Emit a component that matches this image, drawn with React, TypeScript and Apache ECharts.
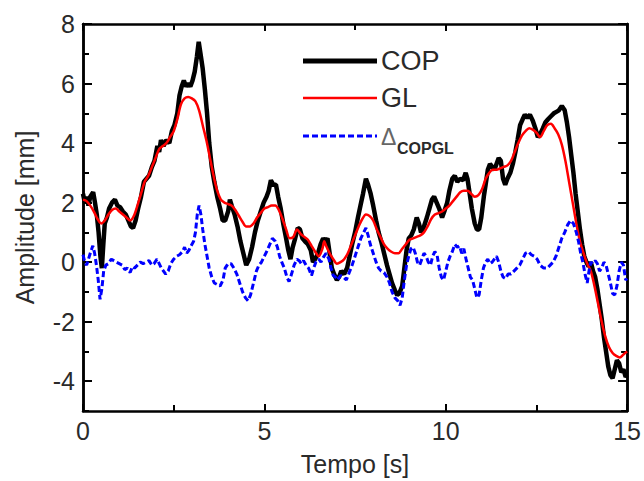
import React, { useEffect, useRef } from "react";
import * as echarts from "echarts";

const xTicks = [0, 5, 10, 15];
const yTickValues = [-4, -2, 0, 2, 4, 6, 8];

const copData: number[][] = [
  [0, 2.3], [0.05, 2.0], [0.1, 2.2], [0.15, 1.9], [0.2, 2.2], [0.28, 2.35], [0.33, 2.0], [0.38, 1.6], [0.43, 1.0], [0.48, 0.2],
  [0.52, -0.2], [0.56, 0.6], [0.6, 1.3], [0.66, 1.5], [0.72, 1.8], [0.8, 2.0], [0.88, 2.1], [0.95, 1.9], [1.02, 1.85], [1.1, 1.7],
  [1.18, 1.6], [1.25, 1.4], [1.32, 1.2], [1.38, 1.15], [1.45, 1.4], [1.52, 1.8], [1.6, 2.2], [1.68, 2.7], [1.75, 2.8], [1.82, 2.9],
  [1.9, 3.2], [1.97, 3.4], [2.05, 3.9], [2.1, 3.7], [2.15, 4.1], [2.22, 3.9], [2.3, 4.1], [2.38, 4.0], [2.45, 4.4], [2.52, 4.6],
  [2.6, 5.0], [2.66, 5.6], [2.72, 5.9], [2.78, 6.1], [2.84, 5.9], [2.9, 6.0], [2.96, 5.9], [3.02, 6.1], [3.08, 6.4], [3.14, 6.9],
  [3.19, 7.4], [3.24, 7.0], [3.3, 6.5], [3.36, 5.8], [3.42, 5.0], [3.48, 4.0], [3.55, 3.2], [3.62, 2.7], [3.7, 2.2], [3.78, 1.8],
  [3.85, 1.4], [3.92, 1.4], [4.0, 1.7], [4.05, 2.1], [4.1, 1.9], [4.18, 1.6], [4.26, 1.2], [4.34, 0.7], [4.42, 0.3], [4.5, -0.1],
  [4.58, 0.1], [4.66, 0.5], [4.74, 1.0], [4.82, 1.4], [4.9, 1.7], [4.98, 2.0], [5.06, 2.2], [5.12, 2.4], [5.18, 2.75], [5.25, 2.6],
  [5.32, 2.6], [5.38, 2.2], [5.45, 1.8], [5.52, 1.3], [5.6, 0.8], [5.66, 0.4], [5.72, 0.1], [5.78, 0.5], [5.85, 0.8], [5.92, 1.15],
  [5.98, 1.1], [6.05, 0.8], [6.12, 0.7], [6.2, 0.6], [6.28, 0.4], [6.34, 0.0], [6.4, 0.1], [6.48, 0.3], [6.55, 0.6], [6.62, 0.8],
  [6.68, 0.7], [6.74, 0.8], [6.8, 0.3], [6.86, -0.2], [6.92, -0.4], [7.0, -0.6], [7.06, -0.5], [7.12, -0.3], [7.2, -0.4], [7.28, -0.2],
  [7.35, 0.2], [7.42, 0.6], [7.5, 1.0], [7.58, 1.5], [7.65, 1.9], [7.72, 2.3], [7.8, 2.8], [7.86, 2.6], [7.93, 2.3], [8.0, 1.9],
  [8.08, 1.4], [8.15, 1.0], [8.22, 0.7], [8.3, 0.3], [8.38, -0.1], [8.45, -0.4], [8.52, -0.7], [8.6, -0.95], [8.66, -1.1], [8.72, -1.05],
  [8.8, -0.8], [8.86, -0.2], [8.92, 0.4], [8.98, 0.8], [9.05, 0.9], [9.12, 1.1], [9.2, 1.5], [9.26, 1.3], [9.32, 1.0], [9.4, 1.2],
  [9.48, 1.5], [9.55, 1.8], [9.62, 2.1], [9.68, 2.2], [9.75, 2.0], [9.82, 1.8], [9.9, 1.5], [9.96, 1.7], [10.04, 2.0], [10.1, 2.4],
  [10.18, 2.8], [10.25, 2.9], [10.32, 2.7], [10.4, 2.8], [10.48, 2.75], [10.55, 3.0], [10.6, 2.8], [10.66, 2.3], [10.72, 1.8], [10.8, 1.3],
  [10.86, 1.1], [10.92, 1.1], [10.98, 1.5], [11.05, 2.2], [11.1, 2.6], [11.16, 3.1], [11.22, 3.3], [11.28, 3.2], [11.34, 3.1], [11.4, 3.3],
  [11.46, 3.5], [11.52, 3.4], [11.58, 2.8], [11.64, 2.6], [11.7, 2.8], [11.78, 3.0], [11.85, 3.3], [11.92, 3.7], [11.98, 4.1], [12.05, 4.6],
  [12.12, 4.8], [12.18, 4.95], [12.25, 4.85], [12.32, 4.95], [12.4, 4.75], [12.47, 4.5], [12.54, 4.2], [12.6, 4.3], [12.68, 4.5], [12.75, 4.7],
  [12.82, 4.8], [12.9, 4.9], [12.98, 5.0], [13.05, 5.05], [13.12, 5.1], [13.2, 5.25], [13.28, 5.1], [13.34, 4.7], [13.4, 4.2], [13.46, 3.6],
  [13.52, 3.0], [13.58, 2.3], [13.64, 1.7], [13.7, 1.1], [13.76, 0.6], [13.82, 0.2], [13.88, 0.0], [13.94, -0.15], [14.0, 0.0], [14.06, -0.3],
  [14.12, -0.5], [14.18, -0.9], [14.24, -1.4], [14.3, -1.9], [14.36, -2.5], [14.42, -3.0], [14.48, -3.5], [14.54, -3.8], [14.6, -3.9], [14.66, -3.6],
  [14.72, -3.3], [14.78, -3.4], [14.84, -3.7], [14.9, -3.6], [14.96, -3.85], [15.0, -3.8],
];

const glData: number[][] = [
  [0, 2.1], [0.1, 2.05], [0.2, 1.9], [0.3, 1.7], [0.4, 1.45], [0.5, 1.3], [0.6, 1.4], [0.7, 1.6], [0.8, 1.75], [0.9, 1.8],
  [1.0, 1.7], [1.1, 1.6], [1.2, 1.5], [1.3, 1.4], [1.4, 1.55], [1.5, 1.9], [1.6, 2.3], [1.7, 2.7], [1.8, 2.9], [1.9, 3.2],
  [2.0, 3.5], [2.1, 3.8], [2.2, 3.9], [2.3, 4.0], [2.4, 4.2], [2.5, 4.4], [2.6, 4.8], [2.7, 5.3], [2.8, 5.5], [2.9, 5.55],
  [3.0, 5.5], [3.1, 5.4], [3.2, 5.1], [3.3, 4.6], [3.4, 4.1], [3.5, 3.5], [3.6, 2.9], [3.7, 2.4], [3.8, 2.1], [3.9, 2.0],
  [4.0, 1.95], [4.1, 1.9], [4.2, 1.75], [4.3, 1.55], [4.4, 1.35], [4.5, 1.2], [4.6, 1.2], [4.7, 1.3], [4.8, 1.5], [4.9, 1.65],
  [5.0, 1.8], [5.1, 1.85], [5.2, 1.9], [5.3, 1.9], [5.4, 1.75], [5.5, 1.45], [5.6, 1.1], [5.7, 0.8], [5.8, 0.85], [5.9, 1.1],
  [6.0, 0.95], [6.1, 0.85], [6.2, 0.75], [6.3, 0.55], [6.4, 0.35], [6.5, 0.2], [6.6, 0.45], [6.65, 0.7], [6.7, 0.55], [6.8, 0.3],
  [6.9, 0.1], [7.0, -0.05], [7.1, 0.0], [7.2, 0.1], [7.3, 0.3], [7.4, 0.6], [7.5, 0.9], [7.6, 1.2], [7.7, 1.45], [7.8, 1.6],
  [7.9, 1.55], [8.0, 1.4], [8.1, 1.1], [8.2, 0.85], [8.3, 0.6], [8.4, 0.45], [8.5, 0.35], [8.6, 0.3], [8.7, 0.3], [8.8, 0.45],
  [8.9, 0.6], [9.0, 0.75], [9.1, 0.8], [9.2, 0.85], [9.3, 0.9], [9.4, 1.0], [9.5, 1.2], [9.6, 1.45], [9.7, 1.6], [9.8, 1.65],
  [9.9, 1.7], [10.0, 1.8], [10.1, 1.9], [10.2, 2.05], [10.3, 2.2], [10.4, 2.35], [10.5, 2.4], [10.6, 2.4], [10.7, 2.3], [10.8, 2.2],
  [10.9, 2.25], [11.0, 2.45], [11.1, 2.8], [11.2, 3.0], [11.3, 3.1], [11.4, 3.1], [11.5, 3.15], [11.6, 3.2], [11.7, 3.25], [11.8, 3.4],
  [11.9, 3.7], [12.0, 4.0], [12.1, 4.25], [12.2, 4.4], [12.3, 4.5], [12.4, 4.45], [12.5, 4.35], [12.6, 4.2], [12.7, 4.4], [12.8, 4.6],
  [12.9, 4.65], [13.0, 4.5], [13.1, 4.3], [13.2, 3.95], [13.3, 3.4], [13.4, 2.7], [13.5, 2.0], [13.6, 1.3], [13.7, 0.7], [13.8, 0.3],
  [13.9, -0.05], [14.0, -0.3], [14.1, -0.8], [14.2, -1.4], [14.3, -2.0], [14.4, -2.5], [14.5, -2.85], [14.6, -3.05], [14.7, -3.15], [14.8, -3.2],
  [14.9, -3.1], [15.0, -3.0],
];

const deltaData: number[][] = [
  [0, 0.25], [0.05, 0.0], [0.1, -0.1], [0.15, 0.1], [0.2, 0.3], [0.27, 0.55], [0.32, 0.3], [0.37, -0.1], [0.42, -0.6], [0.47, -1.25],
  [0.52, -0.9], [0.57, -0.3], [0.63, -0.1], [0.7, -0.05], [0.78, 0.1], [0.85, 0.05], [0.92, 0.0], [1.0, -0.05], [1.08, -0.1], [1.15, -0.25],
  [1.22, -0.2], [1.3, -0.35], [1.36, -0.15], [1.42, -0.2], [1.5, -0.1], [1.58, 0.0], [1.66, -0.05], [1.74, 0.0], [1.82, 0.05], [1.9, -0.1],
  [1.96, -0.05], [2.04, 0.1], [2.1, -0.05], [2.16, -0.2], [2.22, -0.3], [2.28, -0.4], [2.35, -0.3], [2.42, -0.05], [2.5, 0.1], [2.58, 0.2],
  [2.66, 0.25], [2.74, 0.35], [2.8, 0.5], [2.86, 0.3], [2.92, 0.4], [2.98, 0.55], [3.05, 0.7], [3.1, 1.0], [3.15, 1.6], [3.2, 1.9],
  [3.25, 1.6], [3.3, 1.1], [3.36, 0.6], [3.42, 0.2], [3.48, -0.2], [3.55, -0.5], [3.62, -0.7], [3.7, -0.75], [3.78, -0.8], [3.86, -0.6],
  [3.92, -0.2], [4.0, -0.05], [4.08, -0.05], [4.16, -0.2], [4.24, -0.4], [4.32, -0.7], [4.4, -1.0], [4.48, -1.2], [4.55, -1.3], [4.62, -1.1],
  [4.7, -0.7], [4.78, -0.3], [4.85, -0.1], [4.92, 0.0], [5.0, 0.2], [5.08, 0.4], [5.15, 0.6], [5.22, 0.8], [5.3, 0.7], [5.36, 0.5],
  [5.42, 0.2], [5.48, 0.0], [5.55, -0.2], [5.62, -0.5], [5.68, -0.65], [5.75, -0.4], [5.82, -0.1], [5.9, 0.1], [5.96, 0.05], [6.02, -0.05],
  [6.08, 0.05], [6.15, -0.1], [6.22, -0.2], [6.3, -0.45], [6.36, -0.2], [6.42, 0.0], [6.5, 0.1], [6.56, 0.0], [6.62, 0.15], [6.7, 0.3],
  [6.78, 0.1], [6.84, -0.2], [6.9, -0.45], [6.96, -0.5], [7.02, -0.6], [7.1, -0.45], [7.18, -0.5], [7.26, -0.6], [7.34, -0.35], [7.42, -0.1],
  [7.5, 0.2], [7.58, 0.5], [7.66, 0.8], [7.74, 1.0], [7.8, 1.15], [7.86, 0.9], [7.92, 0.6], [8.0, 0.3], [8.08, 0.0], [8.15, -0.2],
  [8.22, -0.3], [8.3, -0.35], [8.38, -0.5], [8.45, -0.7], [8.52, -1.0], [8.6, -1.2], [8.68, -1.3], [8.74, -1.45], [8.8, -1.2], [8.86, -0.6],
  [8.92, -0.1], [8.98, 0.2], [9.04, 0.45], [9.1, 0.5], [9.16, 0.3], [9.22, 0.0], [9.28, -0.1], [9.34, 0.1], [9.4, 0.3], [9.46, 0.2],
  [9.52, 0.0], [9.58, -0.1], [9.64, 0.2], [9.7, 0.35], [9.76, 0.25], [9.82, -0.2], [9.88, -0.5], [9.94, -0.6], [10.0, -0.3], [10.06, 0.0],
  [10.12, 0.2], [10.18, 0.35], [10.25, 0.6], [10.32, 0.5], [10.38, 0.55], [10.44, 0.3], [10.5, 0.45], [10.56, 0.1], [10.62, -0.2], [10.68, -0.5],
  [10.74, -0.6], [10.8, -0.9], [10.86, -1.2], [10.92, -1.1], [10.98, -0.6], [11.04, -0.2], [11.1, 0.0], [11.16, 0.1], [11.22, -0.05], [11.28, 0.0],
  [11.34, 0.1], [11.4, 0.2], [11.46, 0.0], [11.52, -0.3], [11.58, -0.5], [11.65, -0.55], [11.72, -0.4], [11.8, -0.4], [11.88, -0.3], [11.96, -0.2],
  [12.04, -0.1], [12.12, 0.1], [12.2, 0.3], [12.28, 0.35], [12.36, 0.25], [12.44, 0.2], [12.52, 0.1], [12.6, -0.1], [12.7, -0.2], [12.8, -0.2],
  [12.88, -0.1], [12.96, 0.0], [13.04, 0.2], [13.12, 0.5], [13.2, 0.8], [13.28, 1.0], [13.36, 1.25], [13.44, 1.4], [13.52, 1.3], [13.6, 1.0],
  [13.66, 0.7], [13.72, 0.3], [13.78, 0.0], [13.84, -0.4], [13.9, -0.7], [13.95, -0.3], [14.0, 0.0], [14.06, -0.05], [14.12, 0.05], [14.18, -0.05],
  [14.24, -0.3], [14.3, -0.2], [14.36, 0.0], [14.42, -0.1], [14.48, -0.4], [14.54, -0.7], [14.6, -1.05], [14.66, -1.1], [14.72, -0.8], [14.78, -0.3],
  [14.84, 0.0], [14.9, -0.1], [14.96, -0.6], [15.0, -0.55],
];

const FONT = "'Liberation Sans', Arial, sans-serif";
const TEXT = "#2a2a2a";

export default function App() {
  const ref = useRef<HTMLDivElement>(null);
  useEffect(() => {
    if (!ref.current) return;
    const chart = echarts.init(ref.current, undefined, { renderer: "svg" });
    const axisLine = { show: true, onZero: false, lineStyle: { color: "#000", width: 2.5 } };
    const baseX = {
      type: "value" as const,
      min: xTicks[0],
      max: xTicks[xTicks.length - 1],
      interval: 5,
      axisLine,
      axisTick: { show: true, inside: true, length: 7, lineStyle: { color: "#000", width: 2 } },
      minorTick: { show: true, splitNumber: 2, length: 6, lineStyle: { color: "#000", width: 2 } },
      splitLine: { show: false },
      minorSplitLine: { show: false },
    };
    const shortY = {
      type: "value" as const,
      min: -5,
      max: 8,
      interval: 1,
      axisLine,
      axisTick: { show: true, inside: true, length: 6, lineStyle: { color: "#000", width: 2 } },
      axisLabel: { show: false },
      splitLine: { show: false },
    };
    const longY = {
      type: "value" as const,
      min: -5,
      max: 8,
      axisLine,
      axisTick: { show: true, inside: true, length: 9, customValues: yTickValues, lineStyle: { color: "#000", width: 2 } },
      splitLine: { show: false },
    };
    chart.setOption({
      animation: false,
      backgroundColor: "#fff",
      grid: { left: 83, right: 16, top: 24, bottom: 69, containLabel: false },
      xAxis: [
        {
          ...baseX,
          position: "bottom",
          axisLabel: { show: true, fontSize: 25, color: TEXT, fontFamily: FONT, margin: 7 },
          name: "Tempo [s]",
          nameLocation: "middle",
          nameGap: 40,
          nameTextStyle: { fontSize: 25, color: TEXT, fontFamily: FONT },
        },
        { ...baseX, position: "top", axisLabel: { show: false } },
      ],
      yAxis: [
        {
          ...longY,
          position: "left",
          axisLabel: { show: true, customValues: yTickValues, fontSize: 25, color: TEXT, fontFamily: FONT, margin: 8 },
          name: "Amplitude [mm]",
          nameLocation: "middle",
          nameGap: 46,
          nameTextStyle: { fontSize: 25, color: TEXT, fontFamily: FONT },
        },
        { ...shortY, position: "left" },
        { ...longY, position: "right", axisLabel: { show: false } },
        { ...shortY, position: "right" },
      ],
      series: [
        {
          name: "COP",
          type: "line",
          data: copData,
          xAxisIndex: 0,
          yAxisIndex: 0,
          showSymbol: false,
          symbol: "none",
          lineStyle: { color: "#000", width: 4.5 },
          z: 2,
        },
        {
          name: "GL",
          type: "line",
          data: glData,
          xAxisIndex: 0,
          yAxisIndex: 0,
          showSymbol: false,
          symbol: "none",
          smooth: 0.3,
          lineStyle: { color: "#ff0000", width: 2.5 },
          z: 3,
        },
        {
          name: "ΔCOPGL",
          type: "line",
          data: deltaData,
          xAxisIndex: 0,
          yAxisIndex: 0,
          showSymbol: false,
          symbol: "none",
          lineStyle: { color: "#0000ff", width: 3, type: [6, 3] },
          z: 4,
        },
      ],
      graphic: [
        { type: "line", shape: { x1: 303, y1: 61, x2: 377, y2: 61 }, style: { stroke: "#000", lineWidth: 5 } },
        { type: "text", x: 381, y: 61, style: { text: "COP", fontSize: 27, fontFamily: FONT, fill: TEXT, verticalAlign: "middle" } },
        { type: "line", shape: { x1: 303, y1: 98, x2: 377, y2: 98 }, style: { stroke: "#ff0000", lineWidth: 2.5 } },
        { type: "text", x: 381, y: 98, style: { text: "GL", fontSize: 27, fontFamily: FONT, fill: TEXT, verticalAlign: "middle" } },
        { type: "line", shape: { x1: 303, y1: 136, x2: 377, y2: 136 }, style: { stroke: "#0000ff", lineWidth: 3, lineDash: [6, 3] } },
        { type: "text", x: 381, y: 137, style: { text: "Δ", fontSize: 23, fontFamily: FONT, fill: "#666", verticalAlign: "middle" } },
        { type: "text", x: 397, y: 148, style: { text: "COPGL", fontSize: 16, fontWeight: "bold", fontFamily: FONT, fill: TEXT, verticalAlign: "middle" } },
      ],
    });
    return () => chart.dispose();
  }, []);
  return <div ref={ref} style={{ width: 644, height: 481, position: "absolute", left: 0, top: 0 }} />;
}
